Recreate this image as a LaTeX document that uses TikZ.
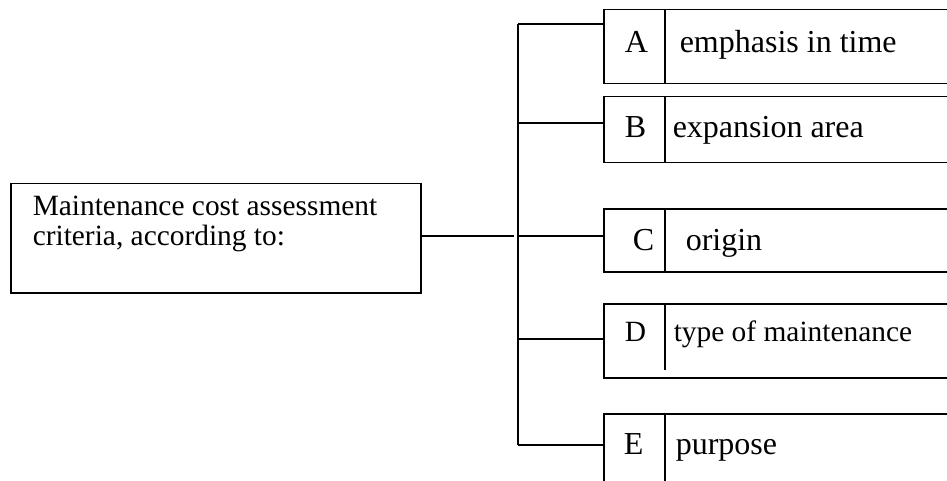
\documentclass[tikz,border=0pt]{standalone}
\usepackage{fontspec}
\setmainfont{Liberation Serif}
\begin{document}
\begin{tikzpicture}[x=1pt,y=-1pt,line width=1.5pt,
  frame/.style={draw,rectangle,inner sep=0pt,anchor=north west},
  lbl/.style={anchor=base west,inner sep=0pt,font=\fontsize{32}{38}\selectfont},
  small/.style={anchor=base west,inner sep=0pt,font=\fontsize{29.4}{35}\selectfont}]
\useasboundingbox (0,0) rectangle (947,481);
\clip (0,0) rectangle (947,481);

% main criteria box
\node[frame,minimum width=410pt,minimum height=109pt] (main) at (10,183) {};
\node[small] (t1) at (32,215) {Maintenance cost assessment};
\node[small] (t2) at (32,245) {criteria, according to:};

% category boxes (run past the right edge)
\node[frame,minimum width=360pt,minimum height=74pt] (A) at (603,9) {};
\node[frame,minimum width=360pt,minimum height=66pt] (B) at (603,96) {};
\node[frame,minimum width=360pt,minimum height=63pt] (C) at (603,208) {};
\node[frame,minimum width=360pt,minimum height=74pt] (D) at (603,303) {};
\node[frame,minimum width=360pt,minimum height=90pt] (E) at (603,413) {};

% dividers between letter and description
\draw ([xshift=62pt]A.north west) -- ([xshift=62pt]A.south west);
\draw ([xshift=62pt]B.north west) -- ([xshift=62pt]B.south west);
\draw ([xshift=62pt]C.north west) -- ([xshift=62pt]C.south west);
\draw ([xshift=62pt]D.north west) -- ([xshift=62pt,yshift=9pt]D.south west);
\draw ([xshift=62pt]E.north west) -- ([xshift=62pt]E.south west);

% letters and descriptions
\node[lbl] (la) at (624,53) {A};
\node[lbl] (da) at (679,53) {emphasis in time};
\node[lbl] (lb) at (624,138) {B};
\node[lbl] (db) at (672,138) {expansion area};
\node[lbl] (lc) at (632,250) {C};
\node[lbl] (dc) at (685,250) {origin};
\node[small] (ld) at (624,341) {D};
\node[small] (dd) at (673,341) {type of maintenance};
\node[lbl] (le) at (623,454) {E};
\node[lbl] (de) at (675,454) {purpose};

% bus and branches
\coordinate (busA) at (518,24);
\coordinate (busB) at (518,123);
\coordinate (busC) at (518,236);
\coordinate (busD) at (518,339);
\coordinate (busE) at (518,445);
\draw (busA) -- (busE);
\draw (busA) -- (A.west |- busA);
\draw (busB) -- (B.west |- busB);
\draw (busC) -- (C.west |- busC);
\draw (busD) -- (D.west |- busD);
\draw (busE) -- (E.west |- busE);
\draw (main.east |- busC) -- ([xshift=-4pt]busC);
\end{tikzpicture}
\end{document}
